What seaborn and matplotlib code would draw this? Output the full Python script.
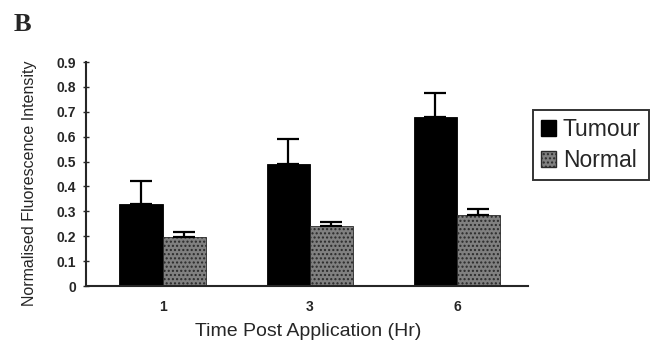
import numpy as np
import pandas as pd
import matplotlib
matplotlib.use("Agg")
import matplotlib.pyplot as plt
import seaborn as sns
from matplotlib.patches import Patch

times = ["1", "3", "6"]
groups = ["Tumour", "Normal"]
tumour = [0.33, 0.49, 0.68]
normal = [0.195, 0.24, 0.285]
tumour_err = [0.09, 0.10, 0.095]
normal_err = [0.02, 0.018, 0.025]
yticks = [0, 0.1, 0.2, 0.3, 0.4, 0.5, 0.6, 0.7, 0.8, 0.9]

sns.set_style("ticks")
plt.rcParams['font.family'] = ['Liberation Sans', 'DejaVu Sans']

df = pd.DataFrame({
    "time": times * 2,
    "group": [groups[0]] * 3 + [groups[1]] * 3,
    "value": tumour + normal,
    "err": tumour_err + normal_err,
})

normal_color = "#808080"

fig = plt.figure(figsize=(6.64, 3.46), dpi=100)
ax = fig.add_axes([0.1295, 0.1734, 0.665, 0.6474])

sns.barplot(data=df, x="time", y="value", hue="group", order=times,
            hue_order=groups, palette={"Tumour": "#000000", "Normal": normal_color},
            width=0.585, errorbar=None, ax=ax, edgecolor="black", linewidth=0.6,
            legend=False)

for cont, g in zip(ax.containers, groups):
    errs = df[df.group == g]["err"].values
    vals = df[df.group == g]["value"].values
    xs = [p.get_x() + p.get_width() / 2 for p in cont.patches]
    if g == "Normal":
        for p in cont.patches:
            p.set_hatch("....")
            p.set_edgecolor("#2a2a2a")
    ax.errorbar(xs, vals, yerr=[np.zeros_like(errs), errs], fmt="none",
                ecolor="black", elinewidth=1.6, capsize=8, capthick=1.6)

ax.set_xlim(-0.52, 2.48)
ax.set_ylim(0, 0.9)
ax.set_yticks(yticks)
ax.set_yticklabels([f"{t:g}" for t in yticks], fontsize=10, fontweight="bold")
ax.tick_params(axis="y", length=4, width=1, pad=5, direction="inout")
ax.tick_params(axis="x", length=0, pad=10, labelsize=10)
for lbl in ax.get_xticklabels():
    lbl.set_fontweight("bold")
sns.despine(ax=ax)
ax.spines["left"].set_linewidth(1.5)
ax.spines["bottom"].set_linewidth(1.5)
ax.set_ylabel("Normalised Fluorescence Intensity", fontsize=11.5)
ax.yaxis.set_label_coords(-0.111, 0.457)
ax.set_xlabel("Time Post Application (Hr)", fontsize=14)
ax.xaxis.set_label_coords(0.503, -0.163)

handles = [Patch(facecolor="black", edgecolor="black"),
           Patch(facecolor=normal_color, edgecolor="#2a2a2a", hatch="....")]
leg = fig.legend(handles, groups, loc="upper left", bbox_to_anchor=(0.803, 0.682),
                 borderaxespad=0, fontsize=16.5, frameon=True, fancybox=False,
                 handlelength=0.65, handleheight=0.65, handletextpad=0.3,
                 borderpad=0.35, labelspacing=0.35, edgecolor="black")
leg.get_frame().set_linewidth(1.4)

fig.text(0.02, 0.962, "B", fontsize=19, fontweight="bold", va="top",
         family="Liberation Serif")

fig.savefig("out.png", dpi=100)
